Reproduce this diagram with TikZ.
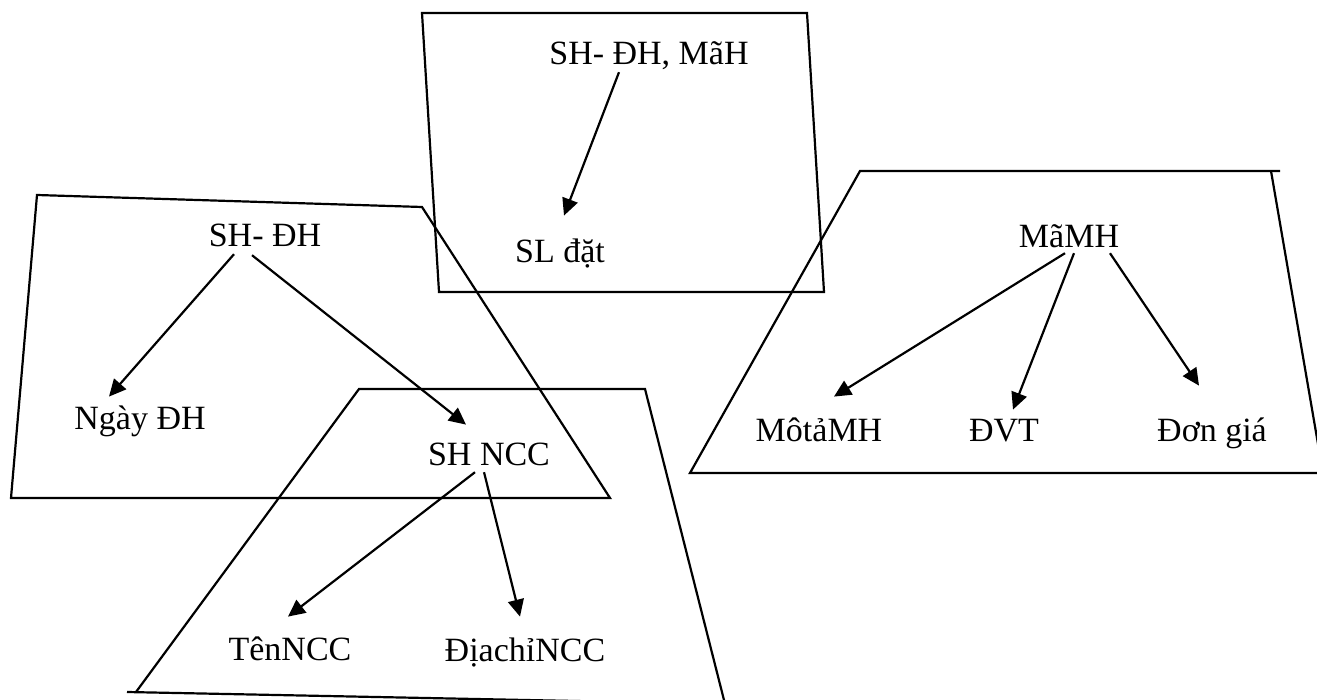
\documentclass[tikz,border=0pt]{standalone}
\usepackage{fontspec}
\setmainfont{Liberation Serif}
\usetikzlibrary{arrows.meta}

\begin{document}
\begin{tikzpicture}[
    x=0.5pt, y=-0.5pt,
    attr/.style={inner sep=0pt, anchor=base, font=\fontsize{17}{20}\selectfont,
                 text height=12pt, text depth=3.4pt},
    frame/.style={line width=1.1pt, line join=miter},
    arrow/.style={-{Triangle[length=8.5pt, width=8pt]}, line width=1.1pt}
]
\useasboundingbox (0,0) rectangle (1317,700);
\clip (0,0) rectangle (1317,700);

%% ── Frames ──────────────────────────────────────────────────────────────────
\draw[frame] (422,13) -- (807,13) -- (824,292) -- (439,292) -- cycle;
\draw[frame] (37,195) -- (422,207) -- (610,498) -- (11,498) -- cycle;
\draw[frame] (127,692) -- (725,704) -- (645,389) -- (359,389) -- (136,692);
\draw[frame] (1280,171) -- (860,171) -- (690,473) -- (1330,473);
\draw[frame] (1271,171) -- (1323,473);

%% ── Chi tiet don hang ───────────────────────────────────────────────────────
\node[attr] (mah) at (649,65)  {SH- ĐH, MãH};
\node[attr] (sl)  at (560,263) {SL đặt};

\draw[arrow] ([shift={(-30,0)}]mah.south) -- ([shift={(4,-23)}]sl.north);

%% ── Don hang ────────────────────────────────────────────────────────────────
\node[attr] (shdh)  at (265,247) {SH- ĐH};
\node[attr] (ngay)  at (140,429) {Ngày ĐH};
\node[attr] (shncc) at (489,465) {SH NCC};

\draw[arrow] ([shift={(-31,0)}]shdh.south) -- ([shift={(-31,-8)}]ngay.north);
\draw[arrow] ([shift={(-13,1)}]shdh.south) -- ([shift={(-23,-16)}]shncc.north);

%% ── Nha cung cap ────────────────────────────────────────────────────────────
\node[attr] (ten)    at (290,660) {TênNCC};
\node[attr] (diachi) at (525,661) {ĐịachỉNCC};

\draw[arrow] ([shift={(-14,0)}]shncc.south) -- ([shift={(-2,-19)}]ten.north);
\draw[arrow] ([shift={(-5,0)}]shncc.south)  -- ([shift={(-5,-20)}]diachi.north);

%% ── Mat hang ────────────────────────────────────────────────────────────────
\node[attr] (mamh)   at (1069,248) {MãMH};
\node[attr] (mota)   at (819,441)  {MôtảMH};
\node[attr] (dvt)    at (1004,441) {ĐVT};
\node[attr] (dongia) at (1212,441) {Đơn giá};

\draw[arrow] ([shift={(-4,-2)}]mamh.south) -- ([shift={(15,-20)}]mota.north);
\draw[arrow] ([shift={(5,-2)}]mamh.south)  -- ([shift={(9,-7)}]dvt.north);
\draw[arrow] ([shift={(41,-2)}]mamh.south) -- ([shift={(-13,-31)}]dongia.north);

\end{tikzpicture}
\end{document}
